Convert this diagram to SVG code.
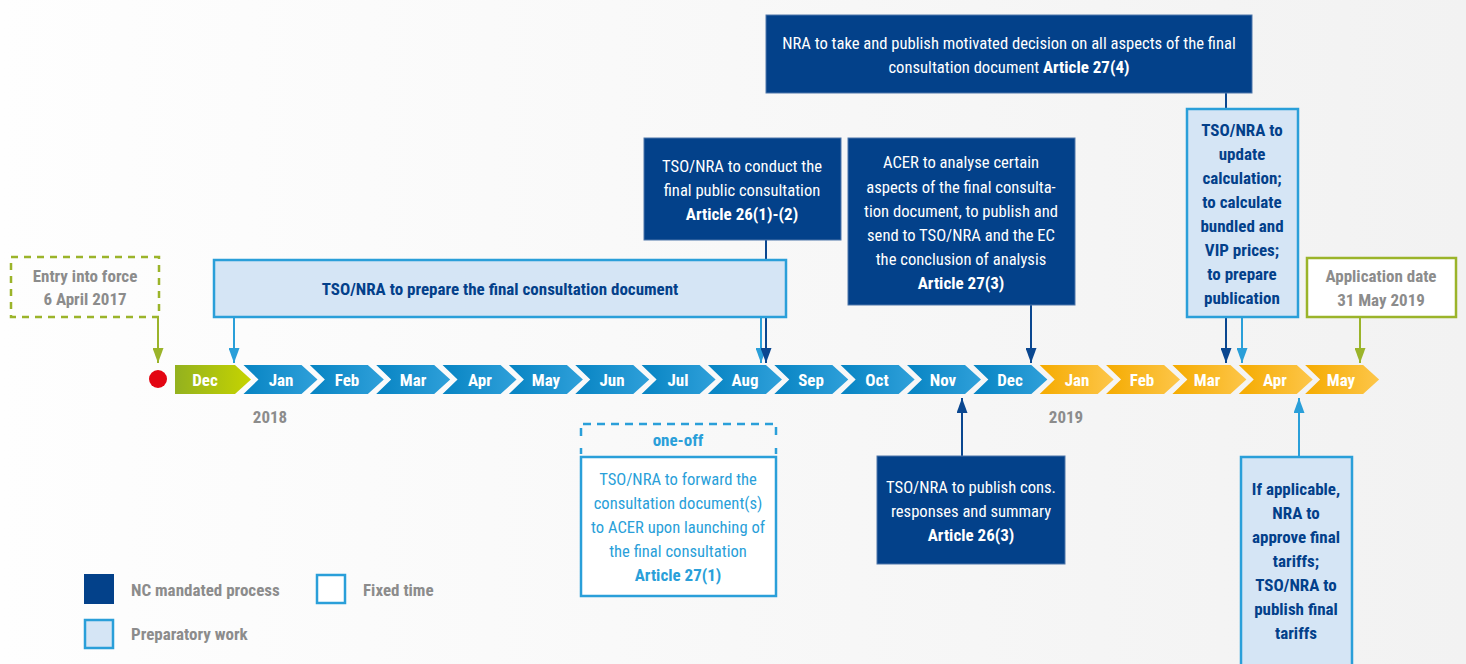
<svg xmlns="http://www.w3.org/2000/svg" width="1466" height="664" viewBox="0 0 1466 664">
<defs>
<linearGradient id="bg" x1="0" y1="0" x2="1" y2="0">
<stop offset="0" stop-color="#fefefe"/><stop offset="1" stop-color="#f2f2f2"/>
</linearGradient>
<linearGradient id="gBlue" x1="0" y1="0" x2="1" y2="0">
<stop offset="0" stop-color="#0784c3"/><stop offset="1" stop-color="#2fa0da"/>
</linearGradient>
<linearGradient id="gYel" x1="0" y1="0" x2="1" y2="0">
<stop offset="0" stop-color="#f5ab00"/><stop offset="1" stop-color="#fdc64a"/>
</linearGradient>
<linearGradient id="gGrn" x1="0" y1="0" x2="1" y2="0">
<stop offset="0" stop-color="#93b11f"/><stop offset="1" stop-color="#c6d400"/>
</linearGradient>
<marker id="aDark" viewBox="0 0 15 11" refX="15" refY="5.5" markerWidth="15" markerHeight="11" markerUnits="userSpaceOnUse" orient="auto"><path d="M0,0 L15,5.5 L0,11 z" fill="#0a4790"/></marker>
<marker id="aLight" viewBox="0 0 15 11" refX="15" refY="5.5" markerWidth="15" markerHeight="11" markerUnits="userSpaceOnUse" orient="auto"><path d="M0,0 L15,5.5 L0,11 z" fill="#2a9fd9"/></marker>
<marker id="aGreen" viewBox="0 0 15 11" refX="15" refY="5.5" markerWidth="15" markerHeight="11" markerUnits="userSpaceOnUse" orient="auto"><path d="M0,0 L15,5.5 L0,11 z" fill="#9bb42a"/></marker>
<style>
text{font-family:"Roboto Condensed","Liberation Sans Narrow","DejaVu Sans Condensed","Liberation Sans",sans-serif;font-stretch:condensed;font-size:16.6px;text-anchor:middle}
.b{font-weight:bold;font-size:17px}
.w{fill:#ffffff}
.db{fill:#03408a}
.lb{fill:#2a9fd9}
.gr{fill:#8c8c8c}
.mon{fill:#ffffff;font-weight:bold;font-size:17px}
.dark{fill:#03418a;stroke:#4f77aa;stroke-width:1}
.prep{fill:#d5e5f5;stroke:#2a9fd9;stroke-width:2.5}
.fixed{fill:#ffffff;stroke:#2a9fd9;stroke-width:2.5}
.cd{stroke:#0a4790;stroke-width:2;fill:none;marker-end:url(#aDark)}
.cl{stroke:#2a9fd9;stroke-width:2;fill:none;marker-end:url(#aLight)}
.cg{stroke:#9bb42a;stroke-width:2;fill:none;marker-end:url(#aGreen)}
.st{text-anchor:start}
</style>
</defs>
<rect x="0" y="0" width="1466" height="664" fill="url(#bg)"/>

<g id="connectors">
<path class="cg" d="M158,317 V363"/>
<path class="cl" d="M234,317 V363"/>
<path class="cl" d="M761,317 V363"/>
<path class="cd" d="M766,240 V363"/>
<path class="cd" d="M1031,305 V363"/>
<path class="cd" d="M1226,93 V363"/>
<path class="cl" d="M1242,317 V363"/>
<path class="cg" d="M1360,317 V363"/>
<path class="cd" d="M962,456 V398"/>
<path class="cl" d="M1299,456 V398"/>
</g>

<g id="timeline">
<circle cx="158" cy="379" r="9" fill="#e30613"/>
<polygon points="175,365 235,365 251,379.5 235,394 175,394" fill="url(#gGrn)"/>
<text class="mon" x="205" y="386">Dec</text>
<g id="m1"><polygon points="243.5,365 301.5,365 317.5,379.5 301.5,394 243.5,394 258.5,379.5" fill="url(#gBlue)"/><text class="mon" x="281" y="386">Jan</text></g>
<g id="m2"><polygon points="309.85,365 367.85,365 383.85,379.5 367.85,394 309.85,394 324.85,379.5" fill="url(#gBlue)"/><text class="mon" x="347" y="386">Feb</text></g>
<g id="m3"><polygon points="376.2,365 434.2,365 450.2,379.5 434.2,394 376.2,394 391.2,379.5" fill="url(#gBlue)"/><text class="mon" x="413" y="386">Mar</text></g>
<g id="m4"><polygon points="442.55,365 500.55,365 516.55,379.5 500.55,394 442.55,394 457.55,379.5" fill="url(#gBlue)"/><text class="mon" x="480" y="386">Apr</text></g>
<g id="m5"><polygon points="508.9,365 566.9,365 582.9,379.5 566.9,394 508.9,394 523.9,379.5" fill="url(#gBlue)"/><text class="mon" x="546" y="386">May</text></g>
<g id="m6"><polygon points="575.25,365 633.25,365 649.25,379.5 633.25,394 575.25,394 590.25,379.5" fill="url(#gBlue)"/><text class="mon" x="612" y="386">Jun</text></g>
<g id="m7"><polygon points="641.6,365 699.6,365 715.6,379.5 699.6,394 641.6,394 656.6,379.5" fill="url(#gBlue)"/><text class="mon" x="678" y="386">Jul</text></g>
<g id="m8"><polygon points="707.95,365 765.95,365 781.95,379.5 765.95,394 707.95,394 722.95,379.5" fill="url(#gBlue)"/><text class="mon" x="745" y="386">Aug</text></g>
<g id="m9"><polygon points="774.3,365 832.3,365 848.3,379.5 832.3,394 774.3,394 789.3,379.5" fill="url(#gBlue)"/><text class="mon" x="811" y="386">Sep</text></g>
<g id="m10"><polygon points="840.65,365 898.65,365 914.65,379.5 898.65,394 840.65,394 855.65,379.5" fill="url(#gBlue)"/><text class="mon" x="877" y="386">Oct</text></g>
<g id="m11"><polygon points="907,365 965,365 981,379.5 965,394 907,394 922,379.5" fill="url(#gBlue)"/><text class="mon" x="943" y="386">Nov</text></g>
<g id="m12"><polygon points="973.35,365 1031.35,365 1047.35,379.5 1031.35,394 973.35,394 988.35,379.5" fill="url(#gBlue)"/><text class="mon" x="1010" y="386">Dec</text></g>
<g id="m13"><polygon points="1039.7,365 1097.7,365 1113.7,379.5 1097.7,394 1039.7,394 1054.7,379.5" fill="url(#gYel)"/><text class="mon" x="1077" y="386">Jan</text></g>
<g id="m14"><polygon points="1106.05,365 1164.05,365 1180.05,379.5 1164.05,394 1106.05,394 1121.05,379.5" fill="url(#gYel)"/><text class="mon" x="1142" y="386">Feb</text></g>
<g id="m15"><polygon points="1172.4,365 1230.4,365 1246.4,379.5 1230.4,394 1172.4,394 1187.4,379.5" fill="url(#gYel)"/><text class="mon" x="1207" y="386">Mar</text></g>
<g id="m16"><polygon points="1238.75,365 1296.75,365 1312.75,379.5 1296.75,394 1238.75,394 1253.75,379.5" fill="url(#gYel)"/><text class="mon" x="1275" y="386">Apr</text></g>
<g id="m17"><polygon points="1305.1,365 1363.1,365 1379.1,379.5 1363.1,394 1305.1,394 1320.1,379.5" fill="url(#gYel)"/><text class="mon" x="1341" y="386">May</text></g>
<text class="gr b" x="270" y="423">2018</text>
<text class="gr b" x="1066" y="423">2019</text>
</g>

<g id="entry">
<rect x="11" y="257" width="148" height="60" fill="none" stroke="#9bb42a" stroke-width="2.5" stroke-dasharray="7,6"/>
<text class="gr b" x="85" y="282">Entry into force</text>
<text class="gr b" x="85" y="305">6 April 2017</text>
</g>

<g id="prepare">
<rect class="prep" x="214" y="260" width="572" height="57"/>
<text class="db b" x="500" y="295">TSO/NRA to prepare the final consultation document</text>
</g>

<g id="conduct">
<rect class="dark" x="644" y="138" width="197" height="102"/>
<text class="w" x="742" y="172">TSO/NRA to conduct the</text>
<text class="w" x="742" y="196">final public consultation</text>
<text class="w b" x="742" y="220">Article 26(1)-(2)</text>
</g>

<g id="acer">
<rect class="dark" x="848" y="138" width="227" height="167"/>
<text class="w" x="961" y="168">ACER to analyse certain</text>
<text class="w" x="961" y="193">aspects of the final consulta-</text>
<text class="w" x="961" y="217">tion document, to publish and</text>
<text class="w" x="961" y="241">send to TSO/NRA and the EC</text>
<text class="w" x="961" y="265">the conclusion of analysis</text>
<text class="w b" x="961" y="289">Article 27(3)</text>
</g>

<g id="nra-decision">
<rect class="dark" x="766" y="15" width="486" height="78"/>
<text class="w" x="1009" y="49">NRA to take and publish motivated decision on all aspects of the final</text>
<text class="w" x="1009" y="73">consultation document <tspan class="b">Article 27(4)</tspan></text>
</g>

<g id="update">
<rect class="prep" x="1187" y="109" width="111" height="208"/>
<text class="db b" x="1242" y="136">TSO/NRA to</text>
<text class="db b" x="1242" y="160">update</text>
<text class="db b" x="1242" y="184">calculation;</text>
<text class="db b" x="1242" y="208">to calculate</text>
<text class="db b" x="1242" y="232">bundled and</text>
<text class="db b" x="1242" y="256">VIP prices;</text>
<text class="db b" x="1242" y="280">to prepare</text>
<text class="db b" x="1242" y="304">publication</text>
</g>

<g id="application">
<rect x="1307" y="258" width="149" height="59" fill="#ffffff" stroke="#9bb42a" stroke-width="2.5"/>
<text class="gr b" x="1381" y="282">Application date</text>
<text class="gr b" x="1381" y="306">31 May 2019</text>
</g>

<g id="forward">
<path d="M581,436 V424 H776 V436" fill="none" stroke="#2a9fd9" stroke-width="2.5" stroke-dasharray="8,6"/>
<path d="M581,448 V454 M776,448 V454" fill="none" stroke="#2a9fd9" stroke-width="2.5"/>
<text class="lb b" x="678" y="446">one-off</text>
<rect class="fixed" x="581" y="457" width="195" height="139"/>
<text class="lb" x="678" y="485">TSO/NRA to forward the</text>
<text class="lb" x="678" y="509">consultation document(s)</text>
<text class="lb" x="678" y="533">to ACER upon launching of</text>
<text class="lb" x="678" y="557">the final consultation</text>
<text class="lb b" x="678" y="581">Article 27(1)</text>
</g>

<g id="publish-cons">
<rect class="dark" x="877" y="456" width="188" height="108"/>
<text class="w" x="971" y="493">TSO/NRA to publish cons.</text>
<text class="w" x="971" y="517">responses and summary</text>
<text class="w b" x="971" y="541">Article 26(3)</text>
</g>

<g id="approve">
<rect class="prep" x="1241" y="457" width="111" height="215"/>
<text class="db b" x="1296" y="495">If applicable,</text>
<text class="db b" x="1296" y="519">NRA to</text>
<text class="db b" x="1296" y="543">approve final</text>
<text class="db b" x="1296" y="567">tariffs;</text>
<text class="db b" x="1296" y="591">TSO/NRA to</text>
<text class="db b" x="1296" y="615">publish final</text>
<text class="db b" x="1296" y="639">tariffs</text>
</g>

<g id="legend">
<rect x="84" y="574" width="30" height="30" fill="#03418a"/>
<text class="gr b st" x="131" y="596">NC mandated process</text>
<rect class="fixed" x="317" y="575" width="28" height="28"/>
<text class="gr b st" x="363" y="596">Fixed time</text>
<rect class="prep" x="85" y="620" width="28" height="28"/>
<text class="gr b st" x="131" y="640">Preparatory work</text>
</g>
</svg>
